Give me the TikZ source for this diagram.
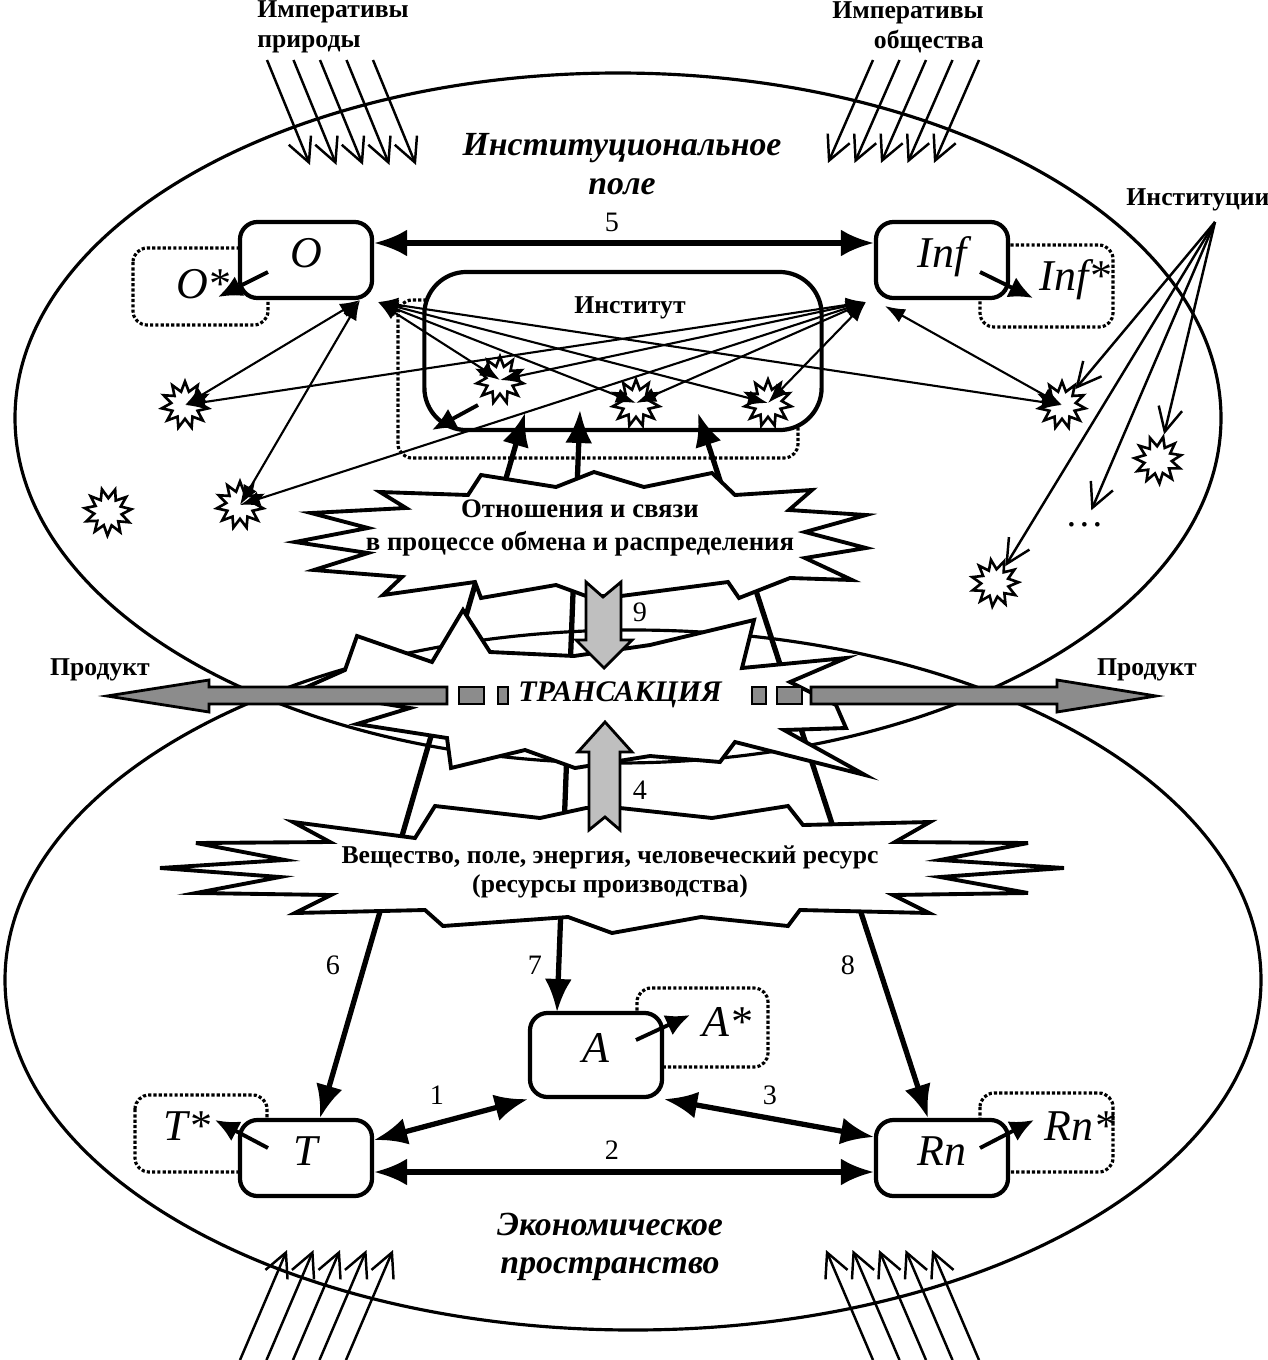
\documentclass[tikz,border=0pt]{standalone}
\usepackage{fontspec}
\setmainfont{Liberation Serif}
\usetikzlibrary{arrows.meta,shapes.geometric,calc}

\newcommand\fsm{\fontsize{7.3}{8.6}\selectfont}
\newcommand\fbig{\fontsize{9.6}{11}\selectfont}
\newcommand\fbukva{\fontsize{12.5}{14}\selectfont\itshape}

\tikzset{
  blok/.style={draw, line width=1.2pt, rounded corners=5pt, fill=white,
    minimum width=1.32cm, minimum height=0.76cm, text height=0.2cm, text depth=0.06cm,
    font=\fbukva},
  zvezd/.style={star, star points=11, star point ratio=1.7, minimum size=0.47cm,
    draw, fill=white, line width=0.75pt, inner sep=0pt},
  tochki/.style={line width=0.9pt, dash pattern=on 0.9pt off 0.6pt, rounded corners=4pt},
  tonk/.style={{Latex[length=0.2cm,width=0.15cm]}-{Latex[length=0.2cm,width=0.15cm]}, line width=0.6pt},
  tolst/.style={{Latex[length=0.33cm,width=0.27cm]}-{Latex[length=0.33cm,width=0.27cm]}, line width=1.5pt},
  vyhod/.style={-{Latex[length=0.24cm,width=0.22cm]}, line width=1.1pt},
  strela/.style={-{Straight Barb[length=0.24cm,width=0.24cm]}, line width=0.7pt},
  vzryv/.style={draw, line width=1.1pt, fill=white},
  seraya/.style={draw, line width=0.8pt, fill=black!25},
  temnaya/.style={draw, line width=0.8pt, fill=black!45},
  nomer/.style={font=\fontsize{8}{9}\selectfont}
}

\begin{document}
\begin{tikzpicture}[x=0.01cm, y=-0.01cm]
\useasboundingbox (0,0) rectangle (1268,1360);

% pole i prostranstvo
\draw[line width=0.9pt] (618,418) ellipse [x radius=603, y radius=345];
\draw[line width=0.9pt] (633,980) ellipse [x radius=628, y radius=350];

% imperativy
\node[font=\fsm\bfseries, align=left] (impP) at (333,27) {Императивы\\природы};
\node[font=\fsm\bfseries, align=right] (impO) at (908,27) {Императивы\\общества};
\foreach \i in {0,...,4} {
  \coordinate (pa\i) at (267+26.5*\i,60);
  \coordinate (pb\i) at (310+26.5*\i,165);
  \draw[strela] (pa\i) -- (pb\i);
  \coordinate (oa\i) at (873+26.5*\i,60);
  \coordinate (ob\i) at (828+26.5*\i,163);
  \draw[strela] (oa\i) -- (ob\i);
  \coordinate (la\i) at (240+26.5*\i,1360);
  \coordinate (lb\i) at (287+26.5*\i,1250);
  \draw[strela] (la\i) -- (lb\i);
  \coordinate (ra\i) at (873+26.5*\i,1360);
  \coordinate (rb\i) at (826+26.5*\i,1250);
  \draw[strela] (ra\i) -- (rb\i);
}

\node[font=\fbig\bfseries\itshape, align=center] (ipole) at (622,164) {Институциональное\\поле};
\node[font=\fbig\bfseries\itshape, align=center] (eprost) at (610,1247) {Экономическое\\пространство};

% dotted
\draw[tochki] (133,248) rectangle (268,325);
\draw[tochki] (980,245) rectangle (1113,327);
\draw[tochki] (135,1095) rectangle (267,1172);
\draw[tochki] (637,988) rectangle (768,1067);
\draw[tochki] (980,1093) rectangle (1113,1172);
\draw[tochki] (398,300) rectangle (798,458);

% bloki
\node[blok] (bO) at (306,260) {O};
\node[blok] (bInf) at (942,260) {Inf};
\node[blok] (bT) at (306,1158) {T};
\node[blok, minimum height=0.84cm] (bA) at (596,1055) {A};
\node[blok] (bRn) at (942,1158) {Rn};
\node[draw, line width=1.2pt, rounded corners=12pt, fill=white,
  minimum width=3.97cm, minimum height=1.58cm] (inst) at (623,351) {};
\node[font=\fsm\bfseries] (instl) at (630,308) {Институт};

\node[font=\fbukva] (Os) at (203,284) {O*};
\node[font=\fbukva] (Infs) at (1075,280) {Inf*};
\node[font=\fbukva] (Ts) at (187,1126) {T*};
\node[font=\fbukva] (As) at (727,1022) {A*};
\node[font=\fbukva] (Rns) at (1080,1126) {Rn*};

% vyhody
\coordinate (o1) at (268,272); \coordinate (o2) at (218,297);
\coordinate (f1) at (980,272); \coordinate (f2) at (1033,298);
\coordinate (t1) at (268,1148); \coordinate (t2) at (215,1120);
\coordinate (a1) at (636,1040); \coordinate (a2) at (690,1015);
\coordinate (r1) at (980,1148); \coordinate (r2) at (1034,1120);
\coordinate (n1) at (478,405); \coordinate (n2) at (432,430);
\draw[vyhod] (o1) -- (o2);
\draw[vyhod] (f1) -- (f2);
\draw[vyhod] (t1) -- (t2);
\draw[vyhod] (a1) -- (a2);
\draw[vyhod] (r1) -- (r2);
\draw[vyhod] (n1) -- (n2);

% instituty (zvezdochki)
\node[zvezd] (s1) at (185,405) {};
\node[zvezd] (s2) at (240,505) {};
\node[zvezd, rotate=15] (s3) at (108,512) {};
\node[zvezd] (sI1) at (500,380) {};
\node[zvezd] (sI2) at (636,403) {};
\node[zvezd] (sI3) at (768,403) {};
\node[zvezd] (sR) at (1062,405) {};
\node[zvezd, rotate=20] (sC) at (1158,460) {};
\node[zvezd, rotate=10] (sB) at (995,583) {};
\node[font=\fontsize{11}{12}\selectfont] (dots) at (1085,525) {\dots};

\coordinate (oL) at (360,300);
\coordinate (oR) at (378,302);
\coordinate (iL) at (866,302);
\coordinate (iR) at (885,306);
\foreach \s in {s1,s2} {
  \draw[tonk] (oL) -- (\s.center);
  \draw[tonk] (iL) -- (\s.center);
}
\foreach \s in {sI1,sI2,sI3,sR} \draw[tonk] (oR) -- (\s.center);
\foreach \s in {sI1,sI2,sI3} \draw[tonk] (iL) -- (\s.center);
\draw[tonk] (iR) -- (sR.center);

% institucii
\node[font=\fsm\bfseries] (instc) at (1198,200) {Институции};
\coordinate (ui) at (1215,222);
\foreach \s in {sR,sB,dots,sC} \draw[strela] (ui) -- (\s);

% svyazi
\draw[tolst] (bO.east |- 0,243) -- (bInf.west |- 0,243);
\node[nomer] (n5) at (612,222) {5};
\draw[tolst] (bT.east |- 0,1140) -- (bA.south west);
\node[nomer] (n1) at (437,1095) {1};
\draw[tolst] (bT.east |- 0,1172) -- (bRn.west |- 0,1172);
\node[nomer] (n2) at (612,1150) {2};
\draw[tolst] (bA.south east) -- (bRn.west |- 0,1137);
\node[nomer] (n3) at (770,1095) {3};

\coordinate (i6) at (525,413); \coordinate (t6) at (320,1118);
\coordinate (i7) at (580,410); \coordinate (t7) at (557,1012);
\coordinate (i8) at (698,413); \coordinate (t8) at (928,1118);
\draw[tolst] (i6) -- (t6);
\draw[tolst] (i7) -- (t7);
\draw[tolst] (i8) -- (t8);
\node[nomer] (n6) at (333,965) {6};
\node[nomer] (n7) at (535,965) {7};
\node[nomer] (n8) at (848,965) {8};

% vzryvy
\draw[vzryv] (295,542) -- (368,528) -- (311,513) -- (406,508) -- (380,492) -- (468,495)
  -- (481,475) -- (556,487) -- (594,472) -- (644,487) -- (712,473) -- (735,495)
  -- (812,490) -- (789,510) -- (866,515) -- (805,532) -- (866,548) -- (805,558)
  -- (852,580) -- (790,578) -- (739,598) -- (728,582) -- (621,596) -- (586,596)
  -- (556,585) -- (481,598) -- (475,582) -- (383,595) -- (402,577) -- (314,570)
  -- (368,553) -- cycle;
\draw[vzryv] (300,690) -- (345,670) -- (357,636) -- (432,662) -- (463,610) -- (490,652)
  -- (574,656) -- (650,645) -- (754,620) -- (742,668) -- (846,658) -- (790,682)
  -- (836,705) -- (846,728) -- (784,730) -- (865,775) -- (735,742) -- (720,762)
  -- (650,756) -- (575,768) -- (525,750) -- (451,768) -- (447,738) -- (357,724)
  -- (410,708) -- cycle;
\draw[vzryv] (160,868) -- (285,860) -- (196,843) -- (330,842) -- (293,822) -- (415,838)
  -- (435,806) -- (540,818) -- (586,808) -- (620,808) -- (712,818) -- (788,806)
  -- (803,825) -- (930,822) -- (895,842) -- (1028,843) -- (940,860) -- (1064,868)
  -- (940,877) -- (1028,893) -- (893,895) -- (929,913) -- (800,910) -- (788,926)
  -- (701,917) -- (612,933) -- (568,917) -- (443,926) -- (425,910) -- (295,913)
  -- (331,895) -- (196,893) -- (280,877) -- cycle;

\node[font=\fontsize{7.6}{9.4}\selectfont\bfseries, align=center] (otn) at (580,528)
  {Отношения и связи\\в процессе обмена и распределения};
\node[font=\fontsize{7.3}{8.4}\selectfont\bfseries, align=center] (vesh) at (610,872)
  {Вещество, поле, энергия, человеческий ресурс\\(ресурсы производства)};

% serye strelki
\draw[seraya] (586,582) -- (603,597) -- (621,582) -- (621,640) -- (632,640) -- (604,668)
  -- (576,640) -- (586,640) -- cycle;
\node[nomer] (n9) at (640,612) {9};
\draw[seraya] (589,830) -- (605,817) -- (620,830) -- (620,752) -- (632,752) -- (605,722)
  -- (578,752) -- (589,752) -- cycle;
\node[nomer] (n4) at (640,790) {4};

\draw[temnaya] (447,687) -- (209,687) -- (209,680) -- (107,696) -- (209,712) -- (209,704)
  -- (447,704) -- cycle;
\draw[temnaya] (459,687) rectangle (484,704);
\draw[temnaya] (498,687) rectangle (508,704);
\draw[temnaya] (752,687) rectangle (766,704);
\draw[temnaya] (777,687) rectangle (802,704);
\draw[temnaya] (811,687) -- (1057,687) -- (1057,680) -- (1156,696) -- (1057,712) -- (1057,704)
  -- (811,704) -- cycle;
\node[font=\fsm\bfseries] (prL) at (100,670) {Продукт};
\node[font=\fsm\bfseries] (prR) at (1147,670) {Продукт};
\node[font=\fontsize{8.5}{10}\selectfont\bfseries\itshape] (trans) at (620,695) {ТРАНСАКЦИЯ};
\end{tikzpicture}
\end{document}
